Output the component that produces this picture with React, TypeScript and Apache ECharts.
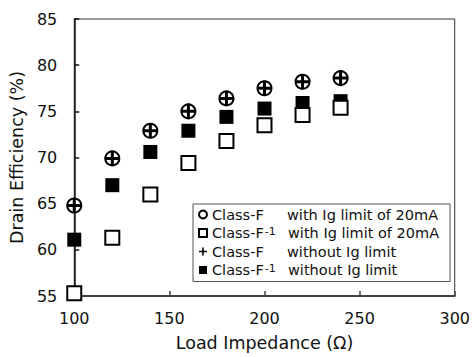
import React, { useEffect, useRef } from "react";
import * as echarts from "echarts";

// Load impedance sweep (Ω)
const loads = [100, 120, 140, 160, 180, 200, 220, 240];

// Drain efficiency (%) for each configuration
const classFWithLimit = [64.8, 69.9, 72.9, 75.0, 76.4, 77.5, 78.2, 78.6];
const classFInvWithLimit = [55.3, 61.3, 66.0, 69.4, 71.8, 73.5, 74.6, 75.4];
const classFNoLimit = [64.8, 69.9, 72.9, 75.0, 76.4, 77.5, 78.2, 78.6];
const classFInvNoLimit = [61.1, 67.0, 70.6, 72.9, 74.4, 75.3, 75.9, 76.1];

const xTicks = { min: 100, max: 300, interval: 50 };
const yTicks = { min: 55, max: 85, interval: 5 };

const seriesNames = [
  "Class-F with Ig limit of 20mA",
  "Class-F-1 with Ig limit of 20mA",
  "Class-F without Ig limit",
  "Class-F-1 without Ig limit",
];

const FONT = "DejaVu Sans";
const INK = "#111111";
const PLUS = "path://M4,0H6V4H10V6H6V10H4V6H0V4H4Z";

const pairs = (ys: number[]) => loads.map((x, i) => [x, ys[i]]);

export default function App() {
  const ref = useRef<HTMLDivElement>(null);

  useEffect(() => {
    if (!ref.current) return;
    const chart = echarts.init(ref.current, null, { renderer: "svg" });

    const legendFormatter = (name: string) => {
      switch (name) {
        case seriesNames[0]:
          return "{aw|Class-F}{b|with Ig limit of 20mA}";
        case seriesNames[1]:
          return "{a|Class-F}{s|-1}{b|with Ig limit of 20mA}";
        case seriesNames[2]:
          return "{aw|Class-F}{b|without Ig limit}";
        default:
          return "{a|Class-F}{s|-1}{b|without Ig limit}";
      }
    };

    const rich = {
      aw: { fontFamily: FONT, fontSize: 14.5, color: INK, width: 75, lineHeight: 15 },
      a: { fontFamily: FONT, fontSize: 14.5, color: INK, lineHeight: 15 },
      s: { fontFamily: FONT, fontSize: 11, color: INK, width: 23.3, verticalAlign: "top", lineHeight: 11, padding: [0, 0, 0, 1] },
      b: { fontFamily: FONT, fontSize: 14.5, color: INK, lineHeight: 15 },
    };

    chart.setOption({
      animation: false,
      backgroundColor: "#ffffff",
      textStyle: { fontFamily: FONT, color: INK },
      grid: {
        left: 72,
        right: 17,
        top: 19,
        bottom: 59,
        show: true,
        borderColor: "#333333",
        borderWidth: 1,
      },
      xAxis: {
        type: "value",
        min: xTicks.min,
        max: xTicks.max,
        interval: xTicks.interval,
        name: "Load Impedance (Ω)",
        nameLocation: "middle",
        nameGap: 38,
        nameTextStyle: { fontFamily: FONT, fontSize: 17.5, color: INK },
        axisLine: { show: true, lineStyle: { color: "#404040", width: 2 } },
        axisTick: { show: true, inside: true, length: 5, lineStyle: { color: "#404040", width: 1.5 } },
        axisLabel: { fontFamily: FONT, fontSize: 16, color: INK, margin: 14 },
        splitLine: { show: false },
      },
      yAxis: {
        type: "value",
        min: yTicks.min,
        max: yTicks.max,
        interval: yTicks.interval,
        name: "Drain Efficiency (%)",
        nameLocation: "middle",
        nameGap: 44,
        nameTextStyle: { fontFamily: FONT, fontSize: 17.5, color: INK },
        axisLine: { show: true, lineStyle: { color: "#111111", width: 1.5 } },
        axisTick: { show: true, inside: true, length: 5, lineStyle: { color: "#111111", width: 1.5 } },
        axisLabel: { fontFamily: FONT, fontSize: 16, color: INK, margin: 17 },
        splitLine: { show: false },
      },
      legend: {
        orient: "vertical",
        left: 193,
        top: 204,
        padding: [3, 11, 4, 5],
        itemGap: 3.5,
        itemWidth: 8,
        itemHeight: 8,
        backgroundColor: "#ffffff",
        borderColor: "#555555",
        borderWidth: 1,
        borderRadius: 0,
        data: seriesNames,
        formatter: legendFormatter,
        textStyle: { fontFamily: FONT, fontSize: 14.5, color: INK, lineHeight: 15, rich },
      },
      series: [
        {
          name: seriesNames[0],
          type: "scatter",
          data: pairs(classFWithLimit),
          symbol: "circle",
          symbolSize: 14,
          itemStyle: { color: "#ffffff", borderColor: "#000000", borderWidth: 2, opacity: 1 },
          z: 3,
        },
        {
          name: seriesNames[1],
          type: "scatter",
          data: pairs(classFInvWithLimit),
          symbol: "rect",
          symbolSize: 14,
          itemStyle: { color: "#ffffff", borderColor: "#000000", borderWidth: 2, opacity: 1 },
          z: 4,
        },
        {
          name: seriesNames[2],
          type: "scatter",
          data: pairs(classFNoLimit),
          symbol: PLUS,
          symbolSize: 15,
          itemStyle: { color: "#000000", opacity: 1 },
          z: 5,
        },
        {
          name: seriesNames[3],
          type: "scatter",
          data: pairs(classFInvNoLimit),
          symbol: "rect",
          symbolSize: 14,
          itemStyle: { color: "#000000", opacity: 1 },
          z: 2,
        },
      ],
    });

    return () => chart.dispose();
  }, []);

  return (
    <div
      ref={ref}
      style={{ position: "fixed", left: 0, top: 0, width: 473, height: 357 }}
    />
  );
}
